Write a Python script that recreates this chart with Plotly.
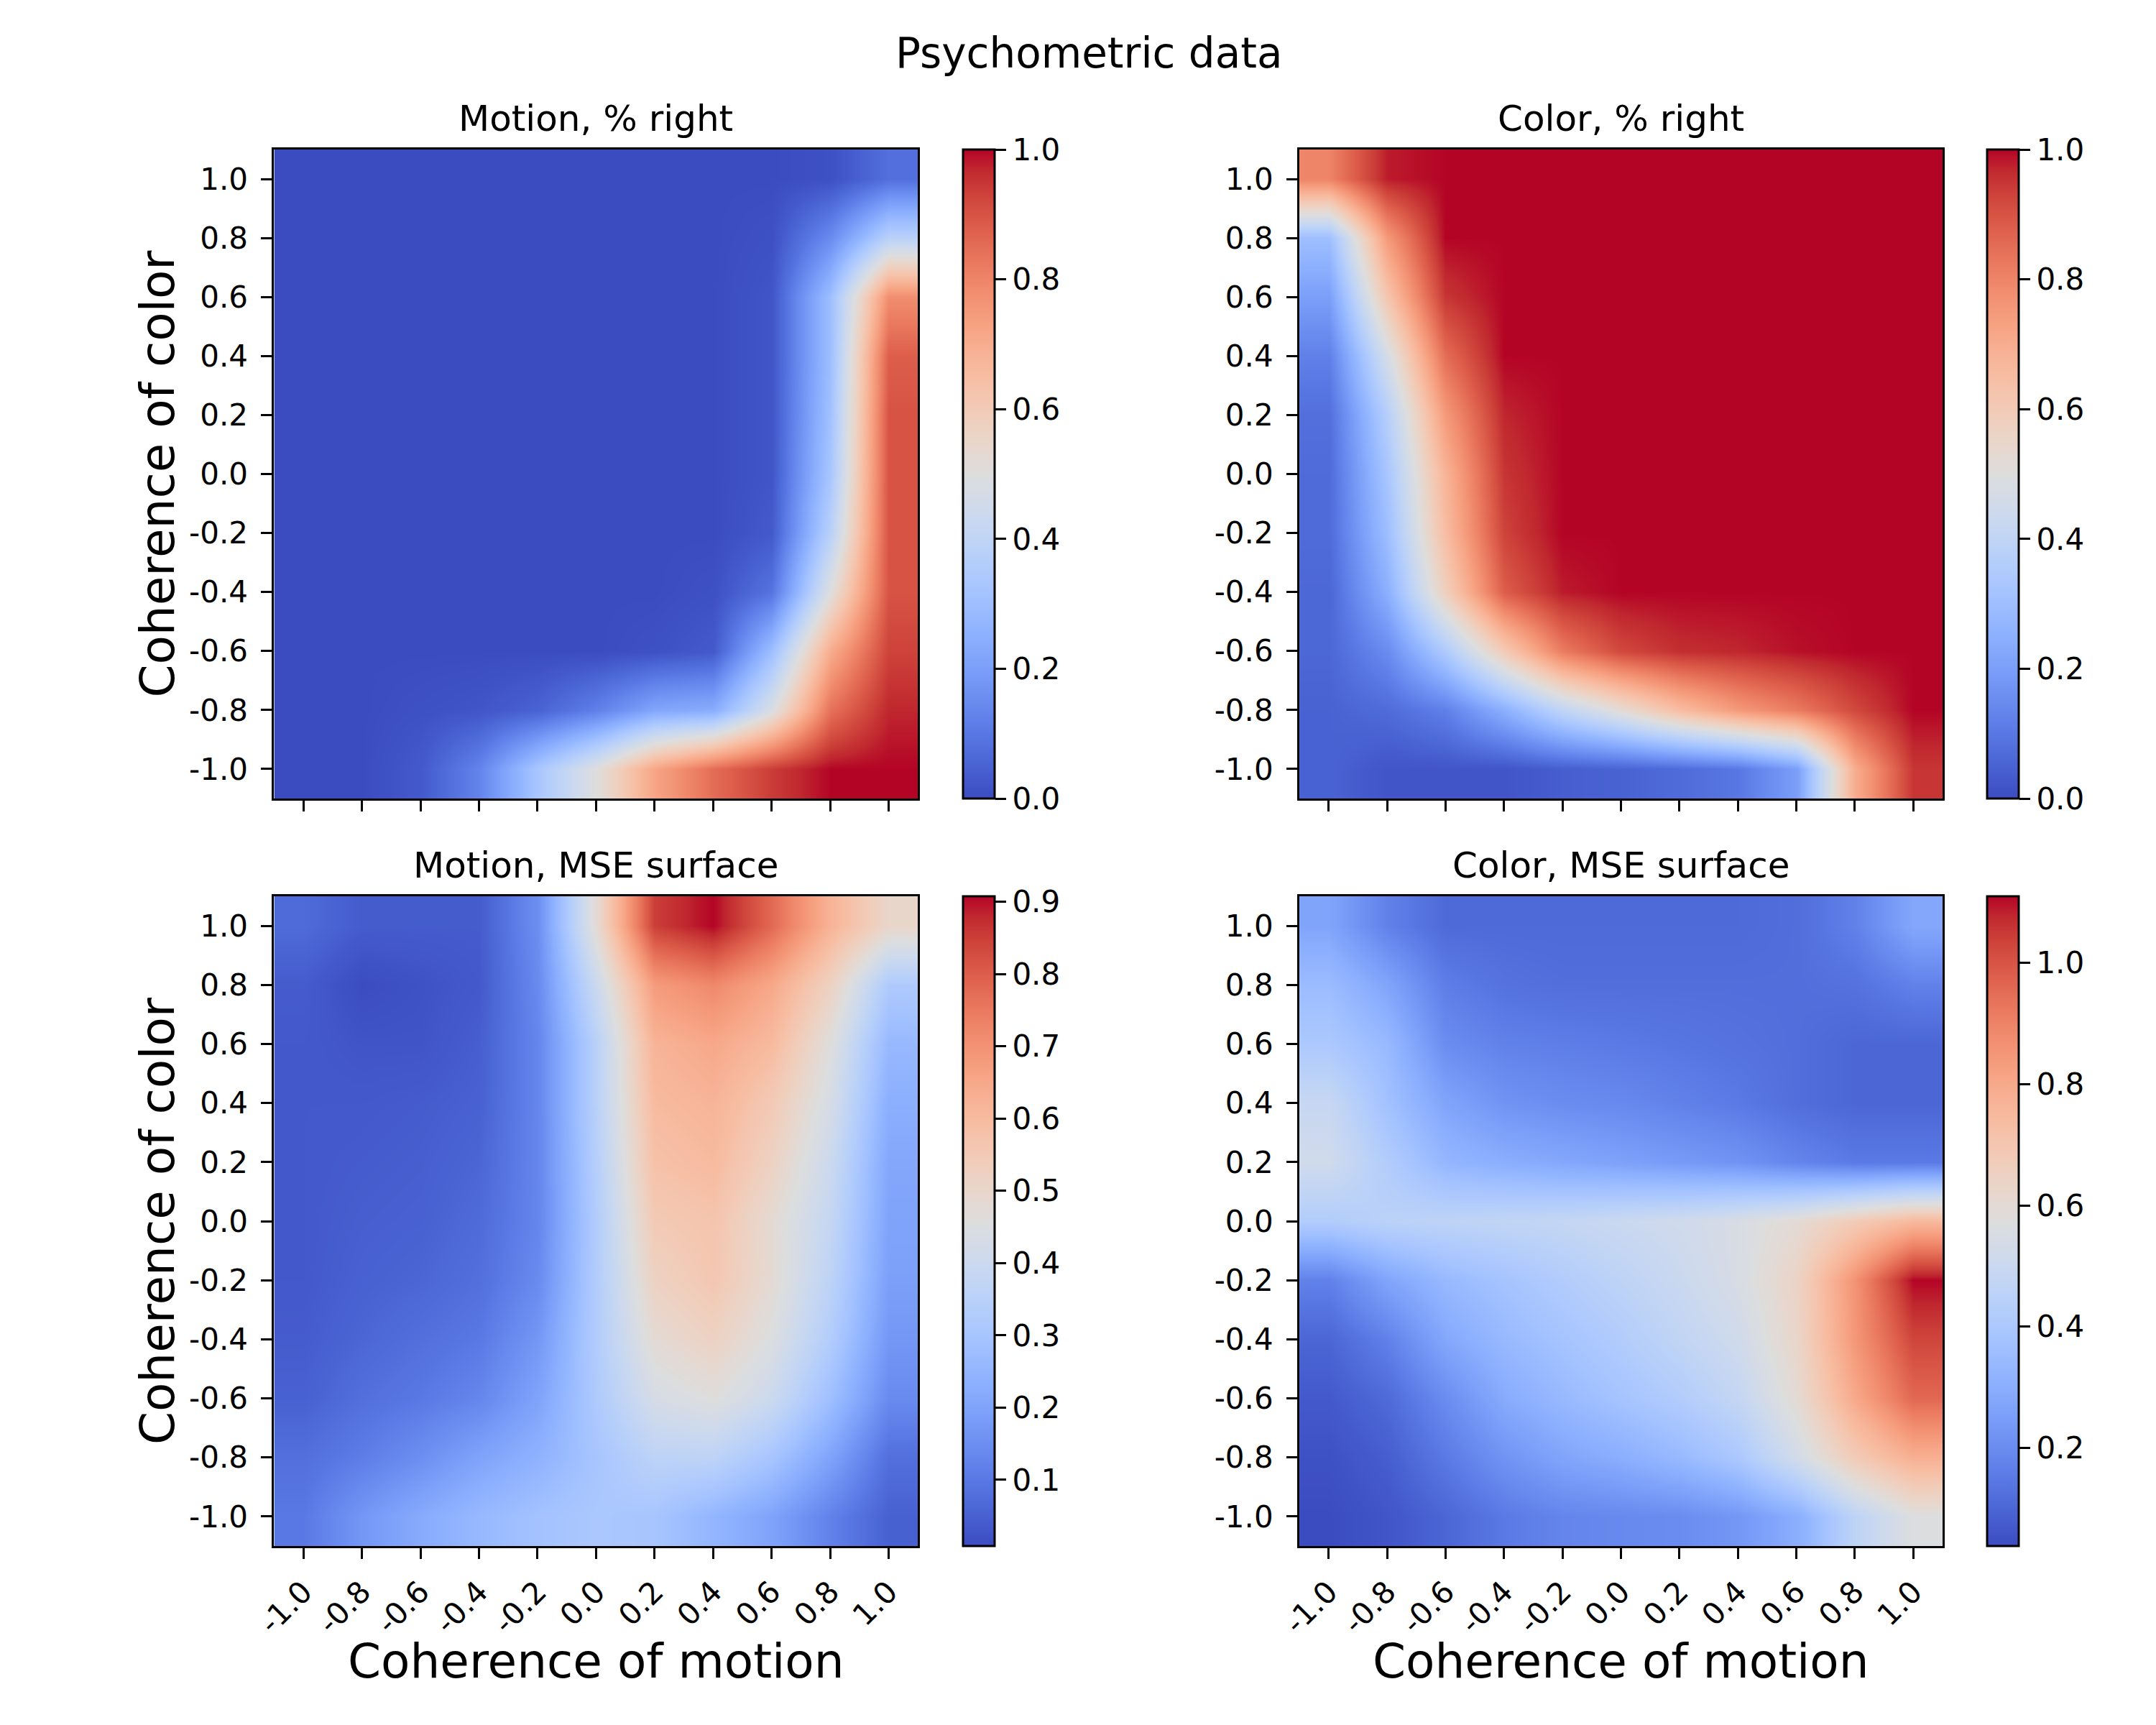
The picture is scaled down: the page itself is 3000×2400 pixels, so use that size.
import plotly.graph_objects as go

# ---------------- data ----------------
coherence = [-1.0, -0.8, -0.6, -0.4, -0.2, 0.0, 0.2, 0.4, 0.6, 0.8, 1.0]
tick_labels = ["-1.0", "-0.8", "-0.6", "-0.4", "-0.2", "0.0", "0.2", "0.4", "0.6", "0.8", "1.0"]

# rows: coherence of color from -1.0 (first) to 1.0 (last); columns: coherence of motion -1.0 .. 1.0
motion_right = [
    [0.00, 0.00, 0.03, 0.13, 0.33, 0.50, 0.72, 0.85, 0.94, 1.00, 1.00],
    [0.00, 0.00, 0.01, 0.02, 0.05, 0.12, 0.22, 0.24, 0.48, 0.84, 0.97],
    [0.00, 0.00, 0.00, 0.00, 0.00, 0.00, 0.01, 0.03, 0.30, 0.70, 0.93],
    [0.00, 0.00, 0.00, 0.00, 0.00, 0.00, 0.00, 0.01, 0.09, 0.50, 0.90],
    [0.00, 0.00, 0.00, 0.00, 0.00, 0.00, 0.00, 0.00, 0.03, 0.38, 0.90],
    [0.00, 0.00, 0.00, 0.00, 0.00, 0.00, 0.00, 0.00, 0.02, 0.33, 0.90],
    [0.00, 0.00, 0.00, 0.00, 0.00, 0.00, 0.00, 0.00, 0.02, 0.31, 0.90],
    [0.00, 0.00, 0.00, 0.00, 0.00, 0.00, 0.00, 0.00, 0.02, 0.30, 0.88],
    [0.00, 0.00, 0.00, 0.00, 0.00, 0.00, 0.00, 0.00, 0.02, 0.30, 0.78],
    [0.00, 0.00, 0.00, 0.00, 0.00, 0.00, 0.00, 0.00, 0.01, 0.15, 0.38],
    [0.00, 0.00, 0.00, 0.00, 0.00, 0.00, 0.00, 0.00, 0.00, 0.01, 0.08],
]

color_right = [
    [0.05, 0.02, 0.02, 0.02, 0.04, 0.05, 0.07, 0.10, 0.20, 0.70, 0.95],
    [0.05, 0.07, 0.12, 0.25, 0.40, 0.52, 0.65, 0.75, 0.82, 0.92, 1.00],
    [0.06, 0.15, 0.35, 0.60, 0.82, 0.92, 0.96, 0.97, 0.99, 1.00, 1.00],
    [0.06, 0.25, 0.58, 0.88, 0.98, 1.00, 1.00, 1.00, 1.00, 1.00, 1.00],
    [0.07, 0.30, 0.65, 0.93, 1.00, 1.00, 1.00, 1.00, 1.00, 1.00, 1.00],
    [0.07, 0.33, 0.68, 0.95, 1.00, 1.00, 1.00, 1.00, 1.00, 1.00, 1.00],
    [0.08, 0.37, 0.75, 0.97, 1.00, 1.00, 1.00, 1.00, 1.00, 1.00, 1.00],
    [0.12, 0.47, 0.85, 1.00, 1.00, 1.00, 1.00, 1.00, 1.00, 1.00, 1.00],
    [0.20, 0.62, 0.95, 1.00, 1.00, 1.00, 1.00, 1.00, 1.00, 1.00, 1.00],
    [0.30, 0.75, 1.00, 1.00, 1.00, 1.00, 1.00, 1.00, 1.00, 1.00, 1.00],
    [0.80, 0.98, 1.00, 1.00, 1.00, 1.00, 1.00, 1.00, 1.00, 1.00, 1.00],
]

motion_mse = [
    [0.10, 0.17, 0.22, 0.26, 0.29, 0.31, 0.30, 0.25, 0.20, 0.12, 0.05],
    [0.08, 0.11, 0.15, 0.20, 0.24, 0.30, 0.36, 0.36, 0.30, 0.20, 0.08],
    [0.05, 0.08, 0.10, 0.13, 0.20, 0.32, 0.43, 0.46, 0.40, 0.28, 0.14],
    [0.04, 0.06, 0.08, 0.10, 0.17, 0.33, 0.48, 0.52, 0.45, 0.33, 0.17],
    [0.035, 0.05, 0.06, 0.08, 0.14, 0.33, 0.52, 0.56, 0.48, 0.36, 0.19],
    [0.035, 0.045, 0.05, 0.07, 0.13, 0.33, 0.55, 0.57, 0.48, 0.38, 0.20],
    [0.035, 0.04, 0.045, 0.06, 0.13, 0.34, 0.58, 0.60, 0.52, 0.40, 0.21],
    [0.035, 0.035, 0.04, 0.05, 0.13, 0.35, 0.60, 0.62, 0.55, 0.43, 0.23],
    [0.035, 0.025, 0.025, 0.045, 0.13, 0.35, 0.62, 0.65, 0.60, 0.46, 0.26],
    [0.04, 0.0085, 0.02, 0.035, 0.14, 0.40, 0.68, 0.72, 0.65, 0.52, 0.32],
    [0.07, 0.04, 0.04, 0.04, 0.15, 0.48, 0.85, 0.9075, 0.78, 0.62, 0.50],
]

color_mse = [
    [0.038, 0.06, 0.10, 0.15, 0.18, 0.19, 0.20, 0.23, 0.30, 0.46, 0.57],
    [0.05, 0.08, 0.15, 0.22, 0.27, 0.30, 0.34, 0.40, 0.53, 0.68, 0.78],
    [0.07, 0.11, 0.20, 0.29, 0.34, 0.38, 0.42, 0.48, 0.60, 0.80, 0.96],
    [0.10, 0.17, 0.28, 0.34, 0.38, 0.42, 0.47, 0.52, 0.63, 0.85, 1.03],
    [0.17, 0.27, 0.34, 0.38, 0.42, 0.46, 0.50, 0.55, 0.64, 0.86, 1.11],
    [0.42, 0.45, 0.46, 0.47, 0.48, 0.50, 0.52, 0.55, 0.60, 0.68, 0.75],
    [0.52, 0.42, 0.33, 0.30, 0.28, 0.26, 0.24, 0.22, 0.18, 0.15, 0.15],
    [0.49, 0.37, 0.27, 0.22, 0.20, 0.19, 0.17, 0.15, 0.12, 0.10, 0.10],
    [0.40, 0.34, 0.20, 0.17, 0.16, 0.15, 0.14, 0.13, 0.12, 0.10, 0.10],
    [0.35, 0.27, 0.16, 0.13, 0.12, 0.12, 0.12, 0.12, 0.12, 0.13, 0.17],
    [0.27, 0.17, 0.11, 0.11, 0.11, 0.11, 0.11, 0.11, 0.12, 0.17, 0.28],
]

panel_titles = ["Motion, % right", "Color, % right", "Motion, MSE surface", "Color, MSE surface"]
suptitle = "Psychometric data"
xlabel = "Coherence of motion"
ylabel = "Coherence of color"

# ---------------- style ----------------
coolwarm = [
    [0.0, "rgb(59,76,192)"], [0.03125, "rgb(68,90,204)"], [0.0625, "rgb(77,104,215)"],
    [0.09375, "rgb(87,117,225)"], [0.125, "rgb(98,130,234)"], [0.15625, "rgb(108,142,241)"],
    [0.1875, "rgb(119,154,247)"], [0.21875, "rgb(130,165,251)"], [0.25, "rgb(141,176,254)"],
    [0.28125, "rgb(152,185,255)"], [0.3125, "rgb(163,194,255)"], [0.34375, "rgb(174,201,253)"],
    [0.375, "rgb(184,208,249)"], [0.40625, "rgb(194,213,244)"], [0.4375, "rgb(204,217,238)"],
    [0.46875, "rgb(213,219,230)"], [0.5, "rgb(221,221,221)"], [0.53125, "rgb(229,216,209)"],
    [0.5625, "rgb(236,211,197)"], [0.59375, "rgb(241,204,185)"], [0.625, "rgb(245,196,173)"],
    [0.65625, "rgb(247,187,160)"], [0.6875, "rgb(247,177,148)"], [0.71875, "rgb(247,166,135)"],
    [0.75, "rgb(244,154,123)"], [0.78125, "rgb(241,141,111)"], [0.8125, "rgb(236,127,99)"],
    [0.84375, "rgb(229,112,88)"], [0.875, "rgb(222,96,77)"], [0.90625, "rgb(213,80,66)"],
    [0.9375, "rgb(203,62,56)"], [0.96875, "rgb(192,40,47)"], [1.0, "rgb(180,4,38)"],
]

W, H = 3000, 2400
FONT = "DejaVu Sans"
TICK_FS = 42
px_x = lambda p: p / W
px_y = lambda p: 1 - p / H

col_x = [(355, 1260), (1796, 2700)]
row_y = [(208, 1111), (1247, 2151)]
cbar_left = [1323, 2763]

panels = [motion_right, color_right, motion_mse, color_mse]
zranges = [(0.0, 1.0), (0.0, 1.0), (0.0085, 0.9075), (0.038, 1.11)]
cbar_ticks = [
    [0.0, 0.2, 0.4, 0.6, 0.8, 1.0],
    [0.0, 0.2, 0.4, 0.6, 0.8, 1.0],
    [0.1, 0.2, 0.3, 0.4, 0.5, 0.6, 0.7, 0.8, 0.9],
    [0.2, 0.4, 0.6, 0.8, 1.0],
]

fig = go.Figure()
annotations = []
for i, z in enumerate(panels):
    r, c = divmod(i, 2)
    ax = "" if i == 0 else str(i + 1)
    top, bot = row_y[r]
    cb_ticks = cbar_ticks[i]
    fig.add_trace(go.Heatmap(
        x=coherence, y=coherence, z=z,
        zmin=zranges[i][0], zmax=zranges[i][1],
        zsmooth="best", colorscale=coolwarm,
        xaxis="x" + ax, yaxis="y" + ax,
        colorbar=dict(
            x=px_x(cbar_left[c]), xanchor="left", xpad=0, ypad=0,
            y=1 - (top + bot) / 2 / H, yanchor="middle",
            len=(bot - top) / H, lenmode="fraction",
            thickness=44, thicknessmode="pixels",
            outlinewidth=3, outlinecolor="black",
            ticks="outside", ticklen=15, tickwidth=3, tickcolor="black",
            tickvals=cb_ticks, ticktext=[f"{v:.1f}" for v in cb_ticks],
            tickfont=dict(family=FONT, size=TICK_FS, color="black"),
        ),
        hoverinfo="skip",
    ))
    axis_common = dict(
        range=[-1.1, 1.1], showgrid=False, zeroline=False,
        showline=True, mirror=True, linecolor="black", linewidth=3,
        ticks="outside", ticklen=15, tickwidth=3, tickcolor="black",
        tickvals=coherence, ticktext=tick_labels,
        tickfont=dict(family=FONT, size=TICK_FS, color="black"),
    )
    xa = dict(axis_common, domain=[px_x(col_x[c][0]), px_x(col_x[c][1])],
              anchor="y" + ax, showticklabels=(r == 1), tickangle=-45,
              ticklabelstandoff=4)
    ya = dict(axis_common, domain=[px_y(bot), px_y(top)],
              anchor="x" + ax, ticklabelstandoff=10)
    fig.update_layout(**{"xaxis" + ax: xa, "yaxis" + ax: ya})

    annotations.append(dict(
        text=panel_titles[i], xref="paper", yref="paper",
        x=px_x((col_x[c][0] + col_x[c][1]) / 2), y=px_y(top - 43),
        xanchor="center", yanchor="middle", showarrow=False,
        font=dict(family=FONT, size=50, color="black"),
    ))
    if c == 0:
        annotations.append(dict(
            text=ylabel, xref="paper", yref="paper",
            x=px_x(191), y=px_y((top + bot) / 2), textangle=-90,
            xanchor="center", yanchor="middle", showarrow=False,
            font=dict(family=FONT, size=66, color="black"),
        ))
    if r == 1:
        annotations.append(dict(
            text=xlabel, xref="paper", yref="paper",
            x=px_x((col_x[c][0] + col_x[c][1]) / 2), y=px_y(2311),
            xanchor="center", yanchor="middle", showarrow=False,
            font=dict(family=FONT, size=66, color="black"),
        ))

annotations.append(dict(
    text=suptitle, xref="paper", yref="paper", x=0.5, y=px_y(74),
    xanchor="center", yanchor="middle", showarrow=False,
    font=dict(family=FONT, size=58, color="black"),
))

fig.update_layout(
    width=W, height=H, autosize=False,
    margin=dict(l=0, r=0, t=0, b=0),
    paper_bgcolor="white", plot_bgcolor="white",
    annotations=annotations,
    font=dict(family=FONT, color="black"),
)

fig.write_html(
    "out.html",
    config={"displayModeBar": False, "staticPlot": True},
    post_script="document.body.style.margin='0';document.body.style.overflow='hidden';",
)
